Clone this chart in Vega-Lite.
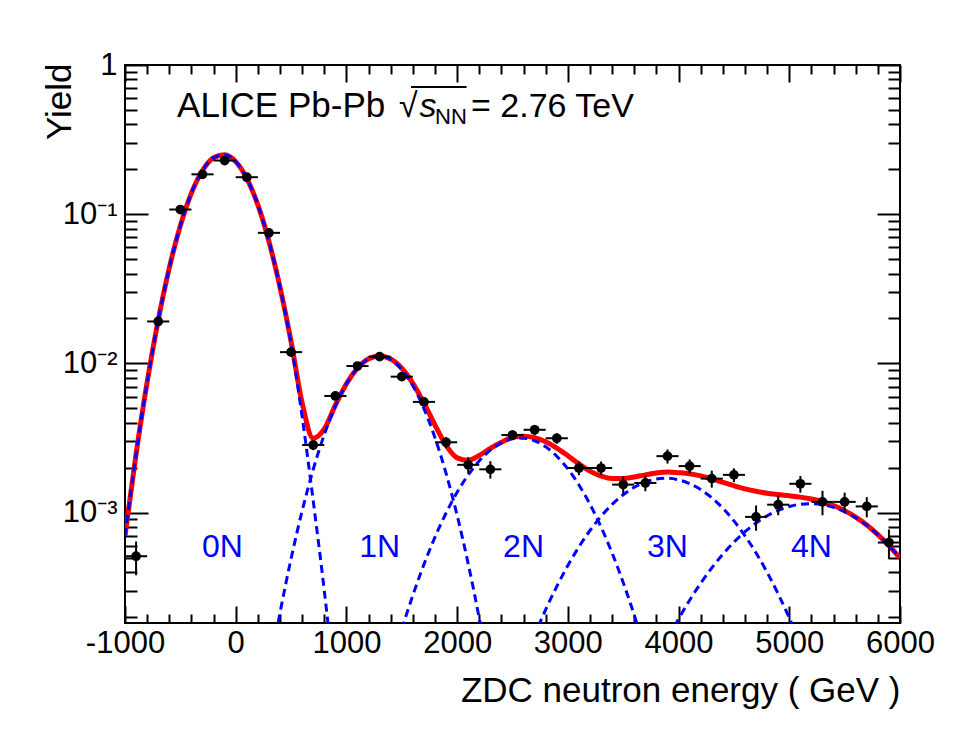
{
  "$schema": "https://vega.github.io/schema/vega-lite/v6.json",
  "width": 775,
  "height": 558,
  "autosize": {"type": "none"},
  "padding": {"left": 125, "top": 65, "right": 65, "bottom": 111},
  "background": "white",
  "config": {
    "view": {"stroke": "black", "strokeWidth": 2},
    "font": "Liberation Sans",
    "axis": {
      "domain": false, "grid": false, "tickColor": "black", "tickWidth": 2,
      "labelFont": "Liberation Sans", "labelFontSize": 31, "labelColor": "black",
      "labelFlush": false, "labelOverlap": false,
      "titleFont": "Liberation Sans", "titleFontSize": 35, "titleFontWeight": "normal", "titleColor": "black"
    }
  },
  "datasets": {
    "pts": [
      {"x": -900, "y": 0.00051, "xlo": -1000, "xhi": -800, "ylo": 0.00038, "yhi": 0.00064},
      {"x": -700, "y": 0.0191, "xlo": -800, "xhi": -600, "ylo": 0.0185, "yhi": 0.0197},
      {"x": -500, "y": 0.1075, "xlo": -600, "xhi": -400, "ylo": 0.1055, "yhi": 0.1095},
      {"x": -300, "y": 0.185, "xlo": -400, "xhi": -200, "ylo": 0.182, "yhi": 0.188},
      {"x": -100, "y": 0.229, "xlo": -200, "xhi": 0, "ylo": 0.226, "yhi": 0.232},
      {"x": 100, "y": 0.177, "xlo": 0, "xhi": 200, "ylo": 0.174, "yhi": 0.18},
      {"x": 300, "y": 0.075, "xlo": 200, "xhi": 400, "ylo": 0.073, "yhi": 0.077},
      {"x": 500, "y": 0.0119, "xlo": 400, "xhi": 600, "ylo": 0.0114, "yhi": 0.0124},
      {"x": 700, "y": 0.00284, "xlo": 600, "xhi": 800, "ylo": 0.00262, "yhi": 0.00306},
      {"x": 900, "y": 0.00605, "xlo": 800, "xhi": 1000, "ylo": 0.00575, "yhi": 0.00635},
      {"x": 1100, "y": 0.0096, "xlo": 1000, "xhi": 1200, "ylo": 0.0092, "yhi": 0.01},
      {"x": 1300, "y": 0.0111, "xlo": 1200, "xhi": 1400, "ylo": 0.0107, "yhi": 0.0115},
      {"x": 1500, "y": 0.00815, "xlo": 1400, "xhi": 1600, "ylo": 0.00775, "yhi": 0.00855},
      {"x": 1700, "y": 0.00552, "xlo": 1600, "xhi": 1800, "ylo": 0.00522, "yhi": 0.00582},
      {"x": 1900, "y": 0.00296, "xlo": 1800, "xhi": 2000, "ylo": 0.00271, "yhi": 0.00321},
      {"x": 2100, "y": 0.00209, "xlo": 2000, "xhi": 2200, "ylo": 0.00183, "yhi": 0.00235},
      {"x": 2300, "y": 0.00195, "xlo": 2200, "xhi": 2400, "ylo": 0.00169, "yhi": 0.00221},
      {"x": 2500, "y": 0.00331, "xlo": 2400, "xhi": 2600, "ylo": 0.00307, "yhi": 0.00355},
      {"x": 2700, "y": 0.00359, "xlo": 2600, "xhi": 2800, "ylo": 0.00331, "yhi": 0.00387},
      {"x": 2900, "y": 0.00315, "xlo": 2800, "xhi": 3000, "ylo": 0.00289, "yhi": 0.00341},
      {"x": 3100, "y": 0.00199, "xlo": 3000, "xhi": 3200, "ylo": 0.00178, "yhi": 0.0022},
      {"x": 3300, "y": 0.00199, "xlo": 3200, "xhi": 3400, "ylo": 0.00178, "yhi": 0.0022},
      {"x": 3500, "y": 0.00154, "xlo": 3400, "xhi": 3600, "ylo": 0.00133, "yhi": 0.00175},
      {"x": 3700, "y": 0.00158, "xlo": 3600, "xhi": 3800, "ylo": 0.00139, "yhi": 0.00177},
      {"x": 3900, "y": 0.00239, "xlo": 3800, "xhi": 4000, "ylo": 0.00213, "yhi": 0.00265},
      {"x": 4100, "y": 0.00205, "xlo": 4000, "xhi": 4200, "ylo": 0.00183, "yhi": 0.00227},
      {"x": 4300, "y": 0.00169, "xlo": 4200, "xhi": 4400, "ylo": 0.00147, "yhi": 0.00191},
      {"x": 4500, "y": 0.00179, "xlo": 4400, "xhi": 4600, "ylo": 0.0016, "yhi": 0.00198},
      {"x": 4700, "y": 0.000936, "xlo": 4600, "xhi": 4800, "ylo": 0.000756, "yhi": 0.001116},
      {"x": 4900, "y": 0.00113, "xlo": 4800, "xhi": 5000, "ylo": 0.00096, "yhi": 0.0013},
      {"x": 5100, "y": 0.00156, "xlo": 5000, "xhi": 5200, "ylo": 0.00136, "yhi": 0.00176},
      {"x": 5300, "y": 0.00118, "xlo": 5200, "xhi": 5400, "ylo": 0.00096, "yhi": 0.0014},
      {"x": 5500, "y": 0.00118, "xlo": 5400, "xhi": 5600, "ylo": 0.001, "yhi": 0.00136},
      {"x": 5700, "y": 0.0011, "xlo": 5600, "xhi": 5800, "ylo": 0.00093, "yhi": 0.00127},
      {"x": 5900, "y": 0.00063, "xlo": 5800, "xhi": 6000, "ylo": 0.00049, "yhi": 0.00077}
    ],
    "total": [
      {"x": -1000, "y": 0.000699}, {"x": -900, "y": 0.002467}, {"x": -800, "y": 0.00748},
      {"x": -700, "y": 0.01949}, {"x": -600, "y": 0.04362}, {"x": -500, "y": 0.08386},
      {"x": -400, "y": 0.1384}, {"x": -300, "y": 0.1964}, {"x": -200, "y": 0.2392},
      {"x": -100, "y": 0.2504}, {"x": 0, "y": 0.2252}, {"x": 100, "y": 0.1739},
      {"x": 200, "y": 0.1154}, {"x": 300, "y": 0.06582}, {"x": 400, "y": 0.0324},
      {"x": 500, "y": 0.01402}, {"x": 600, "y": 0.00543}, {"x": 700, "y": 0.003145},
      {"x": 800, "y": 0.003636}, {"x": 900, "y": 0.005245}, {"x": 1000, "y": 0.00731},
      {"x": 1100, "y": 0.009294}, {"x": 1200, "y": 0.01073}, {"x": 1300, "y": 0.01122},
      {"x": 1400, "y": 0.01071}, {"x": 1500, "y": 0.009277}, {"x": 1600, "y": 0.007358},
      {"x": 1700, "y": 0.00543}, {"x": 1800, "y": 0.003861}, {"x": 1900, "y": 0.002826},
      {"x": 2000, "y": 0.002326}, {"x": 2100, "y": 0.002242}, {"x": 2200, "y": 0.002417},
      {"x": 2300, "y": 0.002696}, {"x": 2400, "y": 0.002962}, {"x": 2500, "y": 0.00319},
      {"x": 2600, "y": 0.003254}, {"x": 2700, "y": 0.003179}, {"x": 2800, "y": 0.002983},
      {"x": 2900, "y": 0.002708}, {"x": 3000, "y": 0.002405}, {"x": 3100, "y": 0.002121},
      {"x": 3200, "y": 0.001895}, {"x": 3300, "y": 0.001757}, {"x": 3400, "y": 0.00169},
      {"x": 3500, "y": 0.00169}, {"x": 3600, "y": 0.001732}, {"x": 3700, "y": 0.00179},
      {"x": 3800, "y": 0.001843}, {"x": 3900, "y": 0.001873}, {"x": 4000, "y": 0.001853},
      {"x": 4100, "y": 0.001824}, {"x": 4200, "y": 0.001763}, {"x": 4300, "y": 0.001684},
      {"x": 4400, "y": 0.001596}, {"x": 4500, "y": 0.001514}, {"x": 4600, "y": 0.001443},
      {"x": 4700, "y": 0.001389}, {"x": 4800, "y": 0.001349}, {"x": 4900, "y": 0.001321},
      {"x": 5000, "y": 0.001296}, {"x": 5100, "y": 0.00127}, {"x": 5200, "y": 0.001233},
      {"x": 5300, "y": 0.001182}, {"x": 5400, "y": 0.001115}, {"x": 5500, "y": 0.001031},
      {"x": 5600, "y": 0.000933}, {"x": 5700, "y": 0.000826}, {"x": 5800, "y": 0.000711},
      {"x": 5900, "y": 0.000601}, {"x": 6000, "y": 0.000495}
    ],
    "comp": [
      {"c": "0N", "x": -1000, "y": 0.000699}, {"c": "0N", "x": -900, "y": 0.002467}, {"c": "0N", "x": -800, "y": 0.00748},
      {"c": "0N", "x": -700, "y": 0.01949}, {"c": "0N", "x": -600, "y": 0.04362}, {"c": "0N", "x": -500, "y": 0.08386},
      {"c": "0N", "x": -400, "y": 0.1384}, {"c": "0N", "x": -300, "y": 0.1964}, {"c": "0N", "x": -200, "y": 0.2392},
      {"c": "0N", "x": -100, "y": 0.2504}, {"c": "0N", "x": 0, "y": 0.2252}, {"c": "0N", "x": 100, "y": 0.1739},
      {"c": "0N", "x": 200, "y": 0.1154}, {"c": "0N", "x": 300, "y": 0.06574}, {"c": "0N", "x": 400, "y": 0.03219},
      {"c": "0N", "x": 500, "y": 0.01353}, {"c": "0N", "x": 600, "y": 0.0044}, {"c": "0N", "x": 700, "y": 0.0012},
      {"c": "0N", "x": 800, "y": 0.0003}, {"c": "0N", "x": 900, "y": 0.000063},
      {"c": "1N", "x": 300, "y": 0.0000834}, {"c": "1N", "x": 400, "y": 0.0002127}, {"c": "1N", "x": 500, "y": 0.0004911},
      {"c": "1N", "x": 600, "y": 0.001027}, {"c": "1N", "x": 700, "y": 0.001945}, {"c": "1N", "x": 800, "y": 0.003336},
      {"c": "1N", "x": 900, "y": 0.005182}, {"c": "1N", "x": 1000, "y": 0.007293}, {"c": "1N", "x": 1100, "y": 0.009294},
      {"c": "1N", "x": 1200, "y": 0.01073}, {"c": "1N", "x": 1300, "y": 0.01122}, {"c": "1N", "x": 1400, "y": 0.01062},
      {"c": "1N", "x": 1500, "y": 0.009112}, {"c": "1N", "x": 1600, "y": 0.007079}, {"c": "1N", "x": 1700, "y": 0.004981},
      {"c": "1N", "x": 1800, "y": 0.003175}, {"c": "1N", "x": 1900, "y": 0.001832}, {"c": "1N", "x": 2000, "y": 0.000958},
      {"c": "1N", "x": 2100, "y": 0.0004536}, {"c": "1N", "x": 2200, "y": 0.0001946}, {"c": "1N", "x": 2300, "y": 0.0000756},
      {"c": "2N", "x": 1400, "y": 0.0000926}, {"c": "2N", "x": 1500, "y": 0.0001651}, {"c": "2N", "x": 1600, "y": 0.0002794},
      {"c": "2N", "x": 1700, "y": 0.000449}, {"c": "2N", "x": 1800, "y": 0.0006855}, {"c": "2N", "x": 1900, "y": 0.0009936},
      {"c": "2N", "x": 2000, "y": 0.001368}, {"c": "2N", "x": 2100, "y": 0.001788}, {"c": "2N", "x": 2200, "y": 0.002222},
      {"c": "2N", "x": 2300, "y": 0.00262}, {"c": "2N", "x": 2400, "y": 0.002935}, {"c": "2N", "x": 2500, "y": 0.003123},
      {"c": "2N", "x": 2600, "y": 0.003155}, {"c": "2N", "x": 2700, "y": 0.003027}, {"c": "2N", "x": 2800, "y": 0.002759},
      {"c": "2N", "x": 2900, "y": 0.002388}, {"c": "2N", "x": 3000, "y": 0.001963}, {"c": "2N", "x": 3100, "y": 0.001532},
      {"c": "2N", "x": 3200, "y": 0.001136}, {"c": "2N", "x": 3300, "y": 0.0008}, {"c": "2N", "x": 3400, "y": 0.0005351},
      {"c": "2N", "x": 3500, "y": 0.00034}, {"c": "2N", "x": 3600, "y": 0.000205}, {"c": "2N", "x": 3700, "y": 0.0001174},
      {"c": "3N", "x": 2600, "y": 0.0000989}, {"c": "3N", "x": 2700, "y": 0.0001515}, {"c": "3N", "x": 2800, "y": 0.000224},
      {"c": "3N", "x": 2900, "y": 0.0003201}, {"c": "3N", "x": 3000, "y": 0.0004418}, {"c": "3N", "x": 3100, "y": 0.0005892},
      {"c": "3N", "x": 3200, "y": 0.0007587}, {"c": "3N", "x": 3300, "y": 0.0009443}, {"c": "3N", "x": 3400, "y": 0.001135},
      {"c": "3N", "x": 3500, "y": 0.001318}, {"c": "3N", "x": 3600, "y": 0.001479}, {"c": "3N", "x": 3700, "y": 0.001603},
      {"c": "3N", "x": 3800, "y": 0.001678}, {"c": "3N", "x": 3900, "y": 0.001698}, {"c": "3N", "x": 4000, "y": 0.001659},
      {"c": "3N", "x": 4100, "y": 0.001565}, {"c": "3N", "x": 4200, "y": 0.001427}, {"c": "3N", "x": 4300, "y": 0.001258},
      {"c": "3N", "x": 4400, "y": 0.00107}, {"c": "3N", "x": 4500, "y": 0.00088}, {"c": "3N", "x": 4600, "y": 0.0006991},
      {"c": "3N", "x": 4700, "y": 0.0005363}, {"c": "3N", "x": 4800, "y": 0.0003974}, {"c": "3N", "x": 4900, "y": 0.0002847},
      {"c": "3N", "x": 5000, "y": 0.0001968}, {"c": "3N", "x": 5100, "y": 0.0001316},
      {"c": "4N", "x": 3800, "y": 0.0001012}, {"c": "4N", "x": 3900, "y": 0.0001418}, {"c": "4N", "x": 4000, "y": 0.000194},
      {"c": "4N", "x": 4100, "y": 0.0002586}, {"c": "4N", "x": 4200, "y": 0.0003361}, {"c": "4N", "x": 4300, "y": 0.0004258},
      {"c": "4N", "x": 4400, "y": 0.0005262}, {"c": "4N", "x": 4500, "y": 0.0006336}, {"c": "4N", "x": 4600, "y": 0.0007443},
      {"c": "4N", "x": 4700, "y": 0.0008524}, {"c": "4N", "x": 4800, "y": 0.0009517}, {"c": "4N", "x": 4900, "y": 0.001036},
      {"c": "4N", "x": 5000, "y": 0.001099}, {"c": "4N", "x": 5100, "y": 0.001138}, {"c": "4N", "x": 5200, "y": 0.001148},
      {"c": "4N", "x": 5300, "y": 0.001129}, {"c": "4N", "x": 5400, "y": 0.001083}, {"c": "4N", "x": 5500, "y": 0.001012},
      {"c": "4N", "x": 5600, "y": 0.0009233}, {"c": "4N", "x": 5700, "y": 0.0008204}, {"c": "4N", "x": 5800, "y": 0.0007112},
      {"c": "4N", "x": 5900, "y": 0.000601}, {"c": "4N", "x": 6000, "y": 0.0004952}
    ],
    "nlab": [
      {"x": -120, "label": "0N"}, {"x": 1300, "label": "1N"}, {"x": 2600, "label": "2N"},
      {"x": 3900, "label": "3N"}, {"x": 5200, "label": "4N"}
    ],
    "one": [{}]
  },
  "layer": [
    {
      "data": {"name": "total"},
      "mark": {"type": "line", "color": "#ff0000", "strokeWidth": 5, "interpolate": "monotone", "clip": true},
      "encoding": {
        "x": {"field": "x", "type": "quantitative",
          "scale": {"domain": [-1000, 6000], "nice": false, "zero": false},
          "axis": {"orient": "bottom", "values": [-1000, 0, 1000, 2000, 3000, 4000, 5000, 6000],
            "tickSize": -17, "labelPadding": 22, "labelExpr": "'' + datum.value",
            "title": "ZDC neutron energy ( GeV )", "titleAnchor": "end", "titleAlign": "right",
            "titleX": 775, "titleY": 78, "titleBaseline": "alphabetic"}},
        "y": {"field": "y", "type": "quantitative",
          "scale": {"type": "log", "domain": [0.000182, 1], "nice": false},
          "axis": {"orient": "left", "values": [0.001, 0.01, 0.1, 1], "tickSize": -23, "labelPadding": 31,
            "labelExpr": "datum.value > 0.5 ? '1' : datum.value > 0.05 ? '10⁻¹' : datum.value > 0.005 ? '10⁻²' : '10⁻³'",
            "title": "Yield", "titleAngle": 270, "titleAlign": "right", "titleBaseline": "middle",
            "titleX": -66, "titleY": -2}}
      }
    },
    {
      "data": {"name": "comp"},
      "mark": {"type": "line", "color": "#0000ff", "strokeWidth": 3, "strokeDash": [8, 5], "interpolate": "monotone", "clip": true},
      "encoding": {
        "x": {"field": "x", "type": "quantitative",
          "axis": {"orient": "bottom", "values": [-800, -600, -400, -200, 200, 400, 600, 800, 1200, 1400, 1600, 1800, 2200, 2400, 2600, 2800, 3200, 3400, 3600, 3800, 4200, 4400, 4600, 4800, 5200, 5400, 5600, 5800],
            "tickSize": -9, "labels": false, "title": null}},
        "y": {"field": "y", "type": "quantitative",
          "axis": {"orient": "left", "values": [0.0002, 0.0003, 0.0004, 0.0005, 0.0006, 0.0007, 0.0008, 0.0009, 0.002, 0.003, 0.004, 0.005, 0.006, 0.007, 0.008, 0.009, 0.02, 0.03, 0.04, 0.05, 0.06, 0.07, 0.08, 0.09, 0.2, 0.3, 0.4, 0.5, 0.6, 0.7, 0.8, 0.9],
            "tickSize": -12, "labels": false, "title": null}},
        "detail": {"field": "c", "type": "nominal"}
      }
    },
    {
      "data": {"name": "pts"},
      "mark": {"type": "rule", "color": "black", "strokeWidth": 2},
      "encoding": {
        "x": {"field": "xlo", "type": "quantitative",
          "axis": {"orient": "top", "values": [-1000, 0, 1000, 2000, 3000, 4000, 5000, 6000],
            "tickSize": -17, "labels": false, "title": null}},
        "x2": {"field": "xhi"},
        "y": {"field": "y", "type": "quantitative",
          "axis": {"orient": "right", "values": [0.001, 0.01, 0.1, 1], "tickSize": -23, "labels": false, "title": null}}
      }
    },
    {
      "data": {"name": "pts"},
      "mark": {"type": "rule", "color": "black", "strokeWidth": 2},
      "encoding": {
        "x": {"field": "x", "type": "quantitative",
          "axis": {"orient": "top", "values": [-800, -600, -400, -200, 200, 400, 600, 800, 1200, 1400, 1600, 1800, 2200, 2400, 2600, 2800, 3200, 3400, 3600, 3800, 4200, 4400, 4600, 4800, 5200, 5400, 5600, 5800],
            "tickSize": -9, "labels": false, "title": null}},
        "y": {"field": "ylo", "type": "quantitative",
          "axis": {"orient": "right", "values": [0.0002, 0.0003, 0.0004, 0.0005, 0.0006, 0.0007, 0.0008, 0.0009, 0.002, 0.003, 0.004, 0.005, 0.006, 0.007, 0.008, 0.009, 0.02, 0.03, 0.04, 0.05, 0.06, 0.07, 0.08, 0.09, 0.2, 0.3, 0.4, 0.5, 0.6, 0.7, 0.8, 0.9],
            "tickSize": -12, "labels": false, "title": null}},
        "y2": {"field": "yhi"}
      }
    },
    {
      "data": {"name": "pts"},
      "mark": {"type": "circle", "color": "black", "size": 95, "opacity": 1},
      "encoding": {
        "x": {"field": "x", "type": "quantitative", "axis": null},
        "y": {"field": "y", "type": "quantitative", "axis": null}
      }
    },
    {
      "data": {"name": "nlab"},
      "mark": {"type": "text", "color": "#0000ff", "fontSize": 32, "font": "Liberation Sans", "align": "center", "baseline": "alphabetic"},
      "encoding": {
        "x": {"field": "x", "type": "quantitative", "axis": null},
        "y": {"datum": 0.000504, "axis": null},
        "text": {"field": "label"}
      }
    },
    {
      "data": {"name": "one"},
      "mark": {"type": "text", "text": "ALICE Pb-Pb", "fontSize": 35, "font": "Liberation Sans", "align": "left", "baseline": "alphabetic", "color": "black"},
      "encoding": {"x": {"datum": -530, "axis": null}, "y": {"datum": 0.45, "axis": null}}
    },
    {
      "data": {"name": "one"},
      "mark": {"type": "text", "text": "√", "fontSize": 34, "font": "Liberation Sans", "align": "left", "baseline": "alphabetic", "color": "black"},
      "encoding": {"x": {"datum": 1475, "axis": null}, "y": {"datum": 0.45, "axis": null}}
    },
    {
      "data": {"name": "one"},
      "mark": {"type": "text", "text": "s", "fontSize": 34, "fontStyle": "italic", "font": "Liberation Sans", "align": "left", "baseline": "alphabetic", "color": "black"},
      "encoding": {"x": {"datum": 1660, "axis": null}, "y": {"datum": 0.45, "axis": null}}
    },
    {
      "data": {"name": "one"},
      "mark": {"type": "text", "text": "NN", "fontSize": 22, "font": "Liberation Sans", "align": "left", "baseline": "alphabetic", "color": "black"},
      "encoding": {"x": {"datum": 1800, "axis": null}, "y": {"datum": 0.4024, "axis": null}}
    },
    {
      "data": {"name": "one"},
      "mark": {"type": "rule", "color": "black", "strokeWidth": 2},
      "encoding": {"x": {"datum": 1583, "axis": null}, "x2": {"datum": 2085}, "y": {"datum": 0.712, "axis": null}}
    },
    {
      "data": {"name": "one"},
      "mark": {"type": "text", "text": "= 2.76 TeV", "fontSize": 34, "font": "Liberation Sans", "align": "left", "baseline": "alphabetic", "color": "black"},
      "encoding": {"x": {"datum": 2125, "axis": null}, "y": {"datum": 0.45, "axis": null}}
    }
  ],
  "resolve": {"axis": {"x": "independent", "y": "independent"}}
}
